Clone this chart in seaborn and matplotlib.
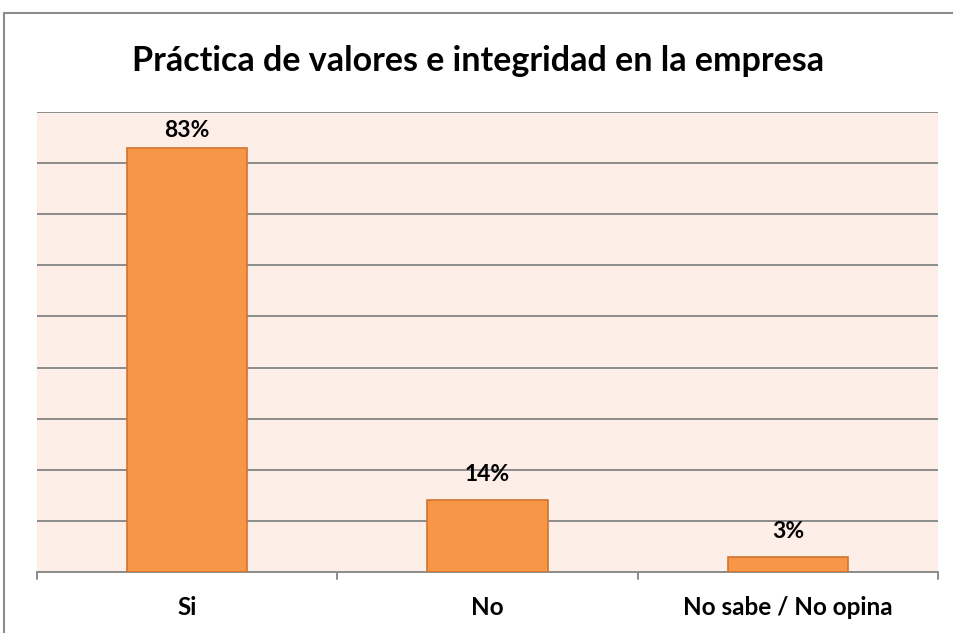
import matplotlib
matplotlib.use("Agg")
import matplotlib.pyplot as plt
import seaborn as sns
import pandas as pd
from matplotlib.patches import Rectangle

categories = ["Si", "No", "No sabe / No opina"]
values = [83, 14, 3]
title = "Práctica de valores e integridad en la empresa"

sns.set_theme(style="white")
plt.rcParams['font.family'] = ['Lato', 'DejaVu Sans']

W, H = 954, 633
fig = plt.figure(figsize=(W / 100, H / 100), dpi=100)
# axes in pixel coordinates: x 37..938, y 112..572
ax = fig.add_axes([37 / W, 1 - 572 / H, (938 - 37) / W, (572 - 112) / H])

df = pd.DataFrame({"cat": categories, "val": values})
sns.barplot(data=df, x="cat", y="val", ax=ax, color="#F79646", width=0.4,
            edgecolor="#D2742F", linewidth=1.2, saturation=1, zorder=3)

ax.set_facecolor("#FDEEE8")
ax.set_xlim(-0.5, 2.5)
ax.set_ylim(0, 90)
ax.set_yticks(range(0, 91, 10))
ax.yaxis.grid(True, color="#8C8C8C", linewidth=1.4, zorder=0)
ax.set_axisbelow(True)
ax.tick_params(axis="y", left=False, labelleft=False)
for s in ["top", "right", "left"]:
    ax.spines[s].set_visible(False)
ax.spines["bottom"].set_color("#8C8C8C")
ax.spines["bottom"].set_linewidth(1.4)

ax.set_xticks([0, 1, 2])
ax.set_xticklabels(categories, fontsize=17.5, fontweight="bold", color="black")
ax.tick_params(axis="x", bottom=False, pad=11)
# boundary tick marks
for xb in [-0.5, 0.5, 1.5, 2.5]:
    ax.plot([xb, xb], [0, -1.3], color="#8C8C8C", linewidth=1.4, clip_on=False)
ax.set_xlabel("")
ax.set_ylabel("")

for i, v in enumerate(values):
    ax.text(i, min(v + 5.0, 86.3), f"{v}%", ha="center", va="center", fontsize=16.5,
            fontweight="bold", color="black", zorder=4)

fig.text(478 / W, 1 - 61 / H, title, ha="center", va="center",
         fontsize=24.5, fontweight="bold", color="black")

# outer chart border
fig.patches.append(Rectangle((4 / W, -0.1), 1.2, 1 - 13 / H + 0.1,
                             transform=fig.transFigure, fill=False,
                             edgecolor="#8C8C8C", linewidth=1.5))

fig.savefig("out.png", dpi=100, facecolor="white")
